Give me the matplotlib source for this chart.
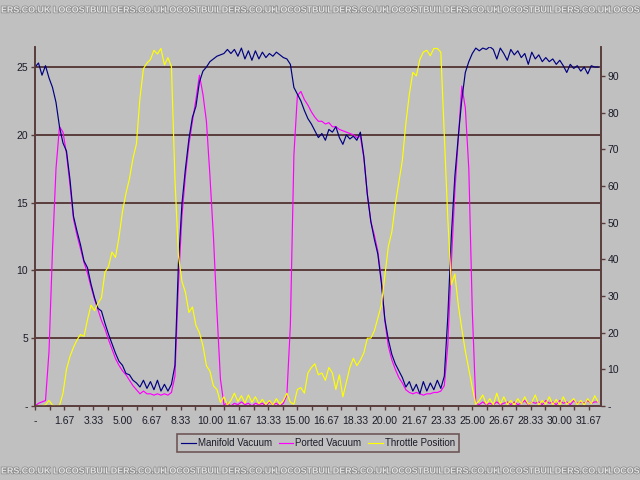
import numpy as np
import matplotlib
matplotlib.use('Agg')
import matplotlib.pyplot as plt
from matplotlib import patheffects
from matplotlib.ticker import FixedLocator, FixedFormatter

plt.rcParams['font.family'] = ['Liberation Sans', 'DejaVu Sans']

# one reading every 0.2 s
t = np.round(np.arange(162) * 0.2, 1)

# manifold vacuum, inHg (left axis)
manifold = [
    25.0, 25.3, 24.4, 25.1, 24.2, 23.5, 22.4, 20.6, 19.4, 18.8,
    16.7, 14.0, 12.9, 11.9, 10.7, 10.2, 9.0, 8.0, 7.2, 7.0,
    6.1, 5.3, 4.6, 3.9, 3.3, 3.0, 2.4, 2.3, 1.9, 1.7,
    1.4, 1.9, 1.3, 1.8, 1.2, 1.9, 1.1, 1.6, 1.1, 1.6,
    3.0, 10.5, 14.9, 17.5, 19.7, 21.3, 22.1, 23.9, 24.7, 25.0,
    25.4, 25.6, 25.8, 25.9, 26.0, 26.3, 26.0, 26.3, 25.8, 26.4,
    25.6, 26.2, 25.5, 26.2, 25.6, 26.1, 25.7, 26.0, 25.8, 26.1,
    25.9, 25.7, 25.6, 25.2, 23.5, 23.0, 22.5, 21.8, 21.2, 20.8,
    20.3, 19.8, 20.1, 19.6, 20.4, 20.2, 20.6, 19.8, 19.3, 20.0,
    19.7, 19.9, 19.6, 20.2, 18.4, 15.6, 13.6, 12.3, 11.2, 9.1,
    6.4, 4.9, 3.8, 3.1, 2.6, 2.1, 1.4, 1.8, 1.1, 1.6,
    0.9, 1.8, 1.1, 1.7, 1.2, 1.9, 1.3, 2.2, 6.6, 12.5,
    16.9, 19.9, 22.6, 24.6, 25.4, 26.0, 26.4, 26.2, 26.4, 26.3,
    26.5, 26.3, 25.6, 26.4, 26.0, 25.5, 26.3, 25.9, 26.2, 25.7,
    26.0, 25.2, 26.1, 25.6, 25.9, 25.4, 25.7, 25.4, 25.6, 25.2,
    25.5, 25.1, 24.6, 25.2, 24.9, 25.1, 24.7, 25.0, 24.5, 25.1,
    25.0, 25.0,
]

# ported vacuum, inHg (left axis)
ported = [
    0.0, 0.2, 0.3, 0.4, 4.0, 11.5, 17.5, 20.6, 20.2, 18.6,
    16.3, 13.8, 12.6, 11.6, 10.6, 9.8, 8.8, 7.9, 7.1, 6.3,
    5.7, 4.9, 4.2, 3.5, 3.0, 2.6, 2.3, 1.9, 1.5, 1.2,
    0.9, 1.1, 0.9, 0.9, 0.8, 0.9, 0.8, 0.9, 0.8, 1.0,
    2.2, 9.0, 14.0, 17.0, 19.3, 21.0, 22.6, 24.4, 23.0, 21.0,
    17.0, 12.5, 7.0, 2.0, 0.1, 0.2, 0.0, 0.2, 0.1, 0.3,
    0.1, 0.2, 0.0, 0.2, 0.1, 0.2, 0.0, 0.3, 0.1, 0.2,
    0.0, 0.2, 0.8, 6.0, 18.5, 22.9, 23.2, 22.6, 22.2, 21.7,
    21.3, 21.0, 21.0, 20.8, 20.9, 20.6, 20.6, 20.4, 20.3, 20.2,
    20.1, 20.0, 19.8, 19.9, 18.3, 15.6, 13.6, 12.6, 11.4, 9.3,
    6.3, 4.4, 3.4, 2.7, 2.1, 1.7, 1.2, 1.0, 0.9, 1.0,
    0.9, 0.8, 0.9, 0.9, 1.0, 1.0, 1.1, 1.5, 4.5, 10.5,
    15.8, 19.7, 23.6, 22.0, 17.5, 7.0, 0.2, 0.1, 0.3, 0.1,
    0.2, 0.1, 0.3, 0.1, 0.2, 0.3, 0.1, 0.3, 0.1, 0.2,
    0.4, 0.1, 0.3, 0.2, 0.3, 0.1, 0.4, 0.2, 0.3, 0.1,
    0.4, 0.2, 0.3, 0.1, 0.4, 0.2, 0.3, 0.2, 0.4, 0.2,
    0.3, 0.3,
]

# throttle position, % (right axis)
throttle = [
    0.0, 0.0, 0.0, 0.3, 1.5, 0.2, 0.0, 0.1, 3.5, 10.0,
    13.5, 16.0, 18.0, 19.5, 19.0, 23.5, 27.5, 26.0, 28.0, 29.5,
    36.5, 38.0, 42.0, 40.5, 46.0, 53.0, 58.0, 62.0, 67.5, 71.5,
    84.0, 92.0, 93.5, 94.5, 97.0, 96.0, 97.5, 93.0, 95.0, 92.5,
    62.0, 41.0, 34.0, 31.0, 25.5, 27.0, 22.0, 20.0, 16.5, 11.0,
    9.5, 5.5, 4.5, 1.0, 2.5, 0.3, 1.5, 3.5, 1.2, 2.8,
    0.8, 3.0, 1.0, 2.5, 0.6, 1.8, 0.4, 1.5, 0.3, 2.0,
    0.5, 1.5, 3.5, 1.0, 0.5, 4.5, 5.0, 3.5, 9.0, 10.5,
    11.5, 8.5, 9.0, 7.0, 10.5, 9.0, 4.5, 8.5, 2.5, 6.5,
    10.5, 13.0, 11.0, 12.5, 14.5, 18.5, 18.5, 20.5, 24.0, 27.5,
    35.5, 43.5, 47.5, 55.0, 61.0, 67.0, 77.0, 85.0, 91.0, 90.0,
    94.5, 96.5, 97.0, 95.5, 97.5, 97.5, 96.5, 74.0, 51.0, 33.0,
    36.0, 27.5, 21.0, 15.0, 10.0, 5.0, 0.5, 1.5, 3.0, 0.5,
    2.0, 0.3, 3.5, 0.5, 2.5, 0.4, 1.5, 0.3, 2.0, 0.6,
    2.5, 0.5, 1.0, 3.0, 0.3, 1.5, 0.5, 2.5, 0.4, 1.8,
    0.3, 2.5, 0.5, 1.2, 2.0, 0.4, 1.5, 0.3, 2.0, 0.6,
    2.8, 1.0,
]

series_names = ['Manifold Vacuum', 'Ported Vacuum', 'Throttle Position']
x_labels = ['-', '1.67', '3.33', '5.00', '6.67', '8.33', '10.00', '11.67',
            '13.33', '15.00', '16.67', '18.33', '20.00', '21.67', '23.33',
            '25.00', '26.67', '28.33', '30.00', '31.67']
left_labels = ['-', '5', '10', '15', '20', '25']
right_labels = ['-', '10', '20', '30', '40', '50', '60', '70', '80', '90']
watermark = 'LOCOSTBUILDERS.CO.UK'


def to_pos(labels):
    return [0.0 if s == '-' else float(s) for s in labels]


bg = '#c0c0c0'
axis_col = '#5a3c3c'
txt_col = '#1c1c2a'

fig = plt.figure(figsize=(6.4, 4.8), dpi=100, facecolor=bg)
ax = fig.add_axes([35 / 640, 1 - 406 / 480, 565.7 / 640, 359 / 480])
ax.set_facecolor(bg)
ax2 = ax.twinx()

# horizontal gridlines at the left-axis ticks
for y in to_pos(left_labels)[1:]:
    ax.axhline(y, color=axis_col, lw=1.4, zorder=1)

l1, = ax.plot(t, manifold, color='#000080', lw=0.85, zorder=3)
l2, = ax.plot(t, ported, color='#ff00ff', lw=0.85, zorder=2)
l3, = ax2.plot(t, throttle, color='#ffff00', lw=0.85)

ax.set_xlim(0, 32.34)
ax.set_ylim(0, 26.48)
ax2.set_ylim(0, 97.9)

xpos = to_pos(x_labels)
ax.xaxis.set_major_locator(FixedLocator(xpos))
ax.xaxis.set_major_formatter(FixedFormatter(x_labels))
ax.xaxis.set_minor_locator(FixedLocator([p + 0.8333 for p in xpos]))
ax.yaxis.set_major_locator(FixedLocator(to_pos(left_labels)))
ax.yaxis.set_major_formatter(FixedFormatter(left_labels))
ax2.yaxis.set_major_locator(FixedLocator(to_pos(right_labels)))
ax2.yaxis.set_major_formatter(FixedFormatter(right_labels))

for a in (ax, ax2):
    a.spines['top'].set_visible(False)
    for s in ('left', 'right', 'bottom'):
        a.spines[s].set_color(axis_col)
        a.spines[s].set_linewidth(1.2)
    a.tick_params(which='both', direction='out', length=3, width=1,
                  color=axis_col, labelsize=7.5, labelcolor=txt_col, pad=2)
ax.tick_params(axis='x', pad=4)

leg = fig.legend([l1, l2, l3], series_names, loc='center',
                 bbox_to_anchor=(318 / 640, 1 - 443 / 480), ncol=3,
                 fontsize=7, frameon=True, fancybox=False,
                 handlelength=1.5, handletextpad=0.2, columnspacing=0.7,
                 borderpad=0.4, borderaxespad=0)
leg.get_frame().set_facecolor(bg)
leg.get_frame().set_edgecolor(axis_col)
leg.get_frame().set_linewidth(1.2)
for txt in leg.get_texts():
    txt.set_color(txt_col)

# forum watermark bands (top and bottom)
wm_style = dict(fontsize=6.4, fontweight='bold', color='#e4e4e4',
                path_effects=[patheffects.withStroke(linewidth=1.1,
                                                     foreground='#8c8c8c')])
for yy in (1 - 10 / 480, 1 - 471 / 480):
    fig.text(1 / 640, yy, watermark[11:], ha='left', va='center', **wm_style)
    for k in range(5):
        fig.text((53 + 111 * k) / 640, yy, watermark, ha='left',
                 va='center', **wm_style)
    fig.text(608 / 640, yy, watermark[:5], ha='left', va='center',
             **wm_style)

fig.savefig('out.png', dpi=100, facecolor=bg)
